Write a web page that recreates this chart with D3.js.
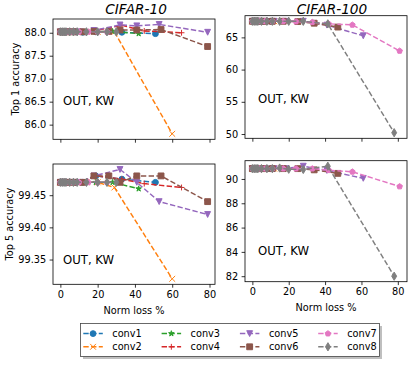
<!DOCTYPE html>
<html><head><meta charset="utf-8">
<script src="https://cdn.jsdelivr.net/npm/d3@7"></script>
<style>body{margin:0;background:#fff} text{font-family:"DejaVu Sans",sans-serif;fill:#000}</style>
</head><body><svg id="c" width="415" height="365"></svg>
<script>
const layers = ["conv1","conv2","conv3","conv4","conv5","conv6","conv7","conv8"];
const layerColors = ["#1f77b4","#ff7f0e","#2ca02c","#d62728","#9467bd","#8c564b","#e377c2","#7f7f7f"];
const layerMarkers = ["o","x","*","+","v","s","p","d"];

// CIFAR-10: norm loss % per layer, top-1 and top-5 accuracy
const c10Loss = [
  [0,1,2,3,5,8,12,19,33,51],
  [0,1,2,4,6,9,14,20,29,60],
  [0,1,2,3,5,8,13,19,28,42],
  [0,1,2,4,7,11,19,33,45,65],
  [0,1,2,4,7,11,18,32,41,53,79],
  [0,1,2,4,7,12,18,26,32,41,54,79],
  [0,1,2,3,5,7,10,15,20,25],
  [0,1,2,3,5,7,9,14,20,25,30]
];
const c10Top1 = [
  [88.02,88.02,88.02,88.02,88.02,88.02,88.01,88.02,88.01,87.98],
  [88.02,88.02,88.02,88.02,88.02,88.02,88.02,88.02,88.02,85.8],
  [88.02,88.02,88.02,88.02,88.02,88.02,88.02,88.02,88.03,87.98],
  [88.02,88.02,88.02,88.02,88.02,88.03,88.05,88.16,88.04,88.0],
  [88.02,88.02,88.02,88.02,88.02,88.02,88.05,88.17,88.15,88.18,88.01],
  [88.02,88.02,88.02,88.02,88.02,88.02,88.03,88.03,88.06,88.06,88.07,87.7],
  [88.02,88.02,88.02,88.02,88.02,88.02,88.02,88.02,88.02,88.02],
  [88.02,88.02,88.02,88.02,88.02,88.02,88.02,88.02,88.02,88.02,88.02]
];
const c10Top5 = [
  [99.47,99.47,99.47,99.47,99.47,99.47,99.47,99.48,99.475,99.47],
  [99.47,99.47,99.47,99.47,99.47,99.47,99.47,99.47,99.462,99.32],
  [99.47,99.47,99.47,99.47,99.47,99.47,99.47,99.47,99.47,99.46],
  [99.47,99.47,99.47,99.47,99.47,99.47,99.48,99.475,99.468,99.462],
  [99.47,99.47,99.47,99.47,99.47,99.47,99.48,99.49,99.47,99.44,99.42],
  [99.47,99.47,99.47,99.47,99.47,99.47,99.48,99.48,99.47,99.48,99.48,99.44],
  [99.47,99.47,99.47,99.47,99.47,99.47,99.47,99.47,99.47,99.47],
  [99.47,99.47,99.47,99.47,99.47,99.47,99.47,99.47,99.47,99.47,99.47]
];

// CIFAR-100
const c100Loss = [
  [0,1,2,3,4,6,8,10],
  [0,1,2,3,5,7,9,12],
  [0,1,2,3,4,6,8],
  [0,1,2,4,6,9,12],
  [0,1,2,4,7,12,18,28,41,61],
  [0,1,2,4,7,11,17,25,34,47],
  [0,1,2,4,7,11,17,24,33,42,55,81],
  [0,1,2,3,5,8,11,15,20,28,41.5,78]
];
const c100Top1 = [
  [67.5,67.5,67.5,67.5,67.5,67.5,67.5,67.5],
  [67.5,67.5,67.5,67.5,67.5,67.5,67.5,67.5],
  [67.5,67.5,67.5,67.5,67.5,67.5,67.5],
  [67.5,67.5,67.5,67.5,67.5,67.5,67.5],
  [67.5,67.5,67.5,67.5,67.5,67.5,67.5,67.5,66.9,65.25],
  [67.5,67.5,67.5,67.5,67.5,67.5,67.5,67.45,67.2,66.6],
  [67.5,67.5,67.5,67.5,67.5,67.5,67.5,67.45,67.35,67.1,66.94,62.9],
  [67.5,67.5,67.5,67.5,67.5,67.5,67.5,67.5,67.5,67.5,67.1,50.2]
];
const c100Top5 = [
  [90.85,90.85,90.85,90.85,90.85,90.85,90.85,90.85],
  [90.85,90.85,90.85,90.85,90.85,90.85,90.85,90.85],
  [90.85,90.85,90.85,90.85,90.85,90.85,90.85],
  [90.85,90.85,90.85,90.85,90.85,90.85,90.85],
  [90.85,90.85,90.85,90.85,90.85,90.85,90.85,91.05,90.7,90.05],
  [90.85,90.85,90.85,90.85,90.85,90.85,90.85,90.85,90.75,90.46],
  [90.85,90.85,90.85,90.85,90.85,90.85,90.85,90.85,90.85,90.72,90.59,89.38],
  [90.85,90.85,90.85,90.85,90.85,90.85,90.85,90.9,90.8,90.78,91.05,82.0]
];

const xTicks = [0,20,40,60,80];
const c10Top1Ticks = [86.0,86.5,87.0,87.5,88.0];
const c10Top5Ticks = [99.35,99.40,99.45];
const c100Top1Ticks = [50,55,60,65];
const c100Top5Ticks = [82,84,86,88,90];
const titles = ["CIFAR-10","CIFAR-100"];
const yLabels = ["Top 1 accuracy","Top 5 accuracy"];
const xLabel = "Norm loss %";
const note = "OUT, KW";

const svg = d3.select("#c");
const FS = 9.75, MS = 5.85, LW = 1.46, MEW = 0.98;

function markerPath(m, s){
  const h = s/2;
  if (m==="o") return `M${h},0A${h},${h} 0 1,1 ${-h},0A${h},${h} 0 1,1 ${h},0Z`;
  if (m==="x") return `M${-h},${-h}L${h},${h}M${-h},${h}L${h},${-h}`;
  if (m==="+") return `M${-h},0L${h},0M0,${-h}L0,${h}`;
  if (m==="v") return `M0,${h}L${-h},${-h}L${h},${-h}Z`;
  if (m==="s") return `M${-h},${-h}H${h}V${h}H${-h}Z`;
  if (m==="*"||m==="p"){
    const pts=[]; const n = m==="*"?10:5;
    for(let i=0;i<n;i++){
      const r = m==="*" ? (i%2? h*0.381966 : h) : h;
      const a = -Math.PI/2 + i*2*Math.PI/n;
      pts.push([r*Math.cos(a), r*Math.sin(a)]);
    }
    return "M"+pts.map(p=>p[0].toFixed(2)+","+p[1].toFixed(2)).join("L")+"Z";
  }
  if (m==="d"){ const v=h*1.414, w=v*0.6; return `M0,${-v}L${w},0L0,${v}L${-w},0Z`; }
}
function drawMarker(g, m, color){
  const open = (m==="x"||m==="+");
  g.append("path").attr("d", markerPath(m, MS))
    .attr("fill", open?"none":color).attr("stroke", color)
    .attr("stroke-width", MEW).attr("stroke-linejoin","miter");
}

const panels = [
  {loss:c10Loss, acc:c10Top1, ticks:c10Top1Ticks, fmt:d3.format(".1f"), box:[53,19,215,139.3], title:0, ylab:0, xlab:false, note:[63,105]},
  {loss:c100Loss, acc:c100Top1, ticks:c100Top1Ticks, fmt:d3.format("d"), box:[245,15.7,407,138.3], title:1, ylab:null, xlab:false, note:[258,103]},
  {loss:c10Loss, acc:c10Top5, ticks:c10Top5Ticks, fmt:d3.format(".2f"), box:[53,164,215,284.3], title:null, ylab:1, xlab:true, note:[63,264]},
  {loss:c100Loss, acc:c100Top5, ticks:c100Top5Ticks, fmt:d3.format("d"), box:[245,160.7,407,281.7], title:null, ylab:null, xlab:true, note:[258,255]}
];

panels.forEach(p=>{
  const [x0,y0,x1,y1] = p.box;
  const allX = p.loss.flat(), allY = p.acc.flat();
  const [xa,xb] = d3.extent(allX), [ya,yb] = d3.extent(allY);
  const px = (xb-xa)*0.05, py = (yb-ya)*0.05;
  const x = d3.scaleLinear().domain([xa-px, xb+px]).range([x0,x1]);
  const y = d3.scaleLinear().domain([ya-py, yb+py]).range([y1,y0]);
  const g = svg.append("g");

  layers.forEach((name,i)=>{
    const pts = p.loss[i].map((v,j)=>[v, p.acc[i][j]]);
    g.append("path").datum(pts)
      .attr("d", d3.line().x(d=>x(d[0])).y(d=>y(d[1])))
      .attr("fill","none").attr("stroke", layerColors[i]).attr("stroke-width", LW)
      .attr("stroke-dasharray", `${(3.7*LW).toFixed(2)},${(1.6*LW).toFixed(2)}`);
    pts.forEach(d=>{
      const mg = g.append("g").attr("transform",`translate(${x(d[0])},${y(d[1])})`);
      drawMarker(mg, layerMarkers[i], layerColors[i]);
    });
  });

  g.append("rect").attr("x",x0).attr("y",y0).attr("width",x1-x0).attr("height",y1-y0)
    .attr("fill","none").attr("stroke","#000").attr("stroke-width",0.8);

  const xa_ = d3.axisBottom(x).tickValues(xTicks).tickSize(3.4).tickPadding(3.4)
     .tickFormat(p.xlab ? d3.format("d") : ()=> "");
  const gx = g.append("g").attr("transform",`translate(0,${y1})`).call(xa_);
  const ya_ = d3.axisLeft(y).tickValues(p.ticks).tickSize(3.4).tickPadding(3.4).tickFormat(p.fmt);
  const gy = g.append("g").attr("transform",`translate(${x0},0)`).call(ya_);
  [gx,gy].forEach(a=>{
    a.select(".domain").remove();
    a.selectAll("line").attr("stroke","#000").attr("stroke-width",0.8);
    a.selectAll("text").attr("font-size",FS).attr("font-family","DejaVu Sans").attr("fill","#000");
  });

  if (p.title!==null){
    g.append("text").attr("x", p.title===0?136:332).attr("y", 14)
      .attr("text-anchor","middle").attr("font-size",13.65).attr("font-style","italic")
      .text(titles[p.title]);
  }
  if (p.ylab!==null){
    const lx = p.ylab===0 ? 15.7 : 9.3;
    g.append("text").attr("transform",`translate(${lx},${(y0+y1)/2}) rotate(-90)`)
      .attr("text-anchor","middle").attr("dy","0.35em").attr("font-size",FS).text(yLabels[p.ylab]);
  }
  if (p.xlab){
    g.append("text").attr("x",(x0+x1)/2).attr("y",y1+29.5)
      .attr("text-anchor","middle").attr("font-size",FS).text(xLabel);
  }
  g.append("text").attr("x",p.note[0]).attr("y",p.note[1]).attr("font-size",11.7).text(note);
});

// legend
const lg = svg.append("g");
const L = {x:80.5, y:323.5, w:299, h:33};
lg.append("rect").attr("x",L.x+2.5).attr("y",L.y+2.5).attr("width",L.w).attr("height",L.h)
  .attr("fill","#000").attr("opacity",0.25);
lg.append("rect").attr("x",L.x).attr("y",L.y).attr("width",L.w).attr("height",L.h)
  .attr("fill","#fff").attr("stroke","#444").attr("stroke-width",0.8);
const colX = [83.3,161.6,239.9,318.2], rowY = [333.6,346.8];
layers.forEach((name,i)=>{
  const c = Math.floor(i/2), r = i%2;
  const hx = colX[c], hy = rowY[r];
  lg.append("line").attr("x1",hx).attr("x2",hx+19.5).attr("y1",hy).attr("y2",hy)
    .attr("stroke",layerColors[i]).attr("stroke-width",LW)
    .attr("stroke-dasharray", `${(3.7*LW).toFixed(2)},${(1.6*LW).toFixed(2)}`);
  const mg = lg.append("g").attr("transform",`translate(${hx+9.75},${hy})`);
  drawMarker(mg, layerMarkers[i], layerColors[i]);
  lg.append("text").attr("x",hx+29).attr("y",hy).attr("dy","0.36em").attr("font-size",FS).text(name);
});
</script></body></html>
